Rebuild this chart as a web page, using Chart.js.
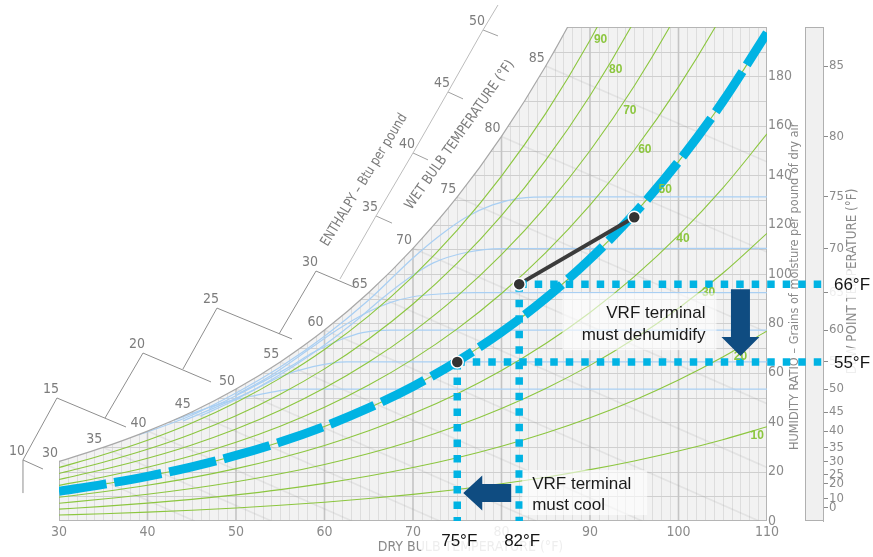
<!DOCTYPE html>
<html>
<head>
<meta charset="utf-8">
<script src="https://cdn.jsdelivr.net/npm/chart.js@4.4.1/dist/chart.umd.min.js"></script>
<style>
  html, body { margin: 0; padding: 0; background: #ffffff; }
  #wrap { width: 873px; height: 557px; }
</style>
</head>
<body>
<div id="wrap"><canvas id="chart" width="873" height="557"></canvas></div>
<script>
// ---------- chart values ----------
const dryBulb = [30, 35, 40, 45, 50, 55, 60, 65, 70, 75, 80, 85, 90, 95, 100, 105, 110];
// humidity ratio at saturation, grains per pound of dry air
const saturationGrains = [24.1, 29.8, 36.4, 44.1, 53.4, 64.4, 77.3, 92.5, 110.4, 131.2, 155.7, 184.2, 217.4, 256.0, 301.0, 353.3, 414.1];

// relative humidity curves (grains at each dry bulb temperature)
const rhLevels = [10, 20, 30, 40, 50, 60, 70, 80, 90];
const rh10 = [2.40, 2.96, 3.61, 4.37, 5.28, 6.35, 7.61, 9.08, 10.79, 12.78, 15.08, 17.74, 20.80, 24.32, 28.34, 32.93, 38.14];
const rh20 = [4.79, 5.93, 7.22, 8.76, 10.58, 12.72, 15.24, 18.19, 21.63, 25.63, 30.27, 35.63, 41.80, 48.90, 57.05, 66.36, 76.96];
const rh30 = [7.19, 8.90, 10.84, 13.15, 15.89, 19.11, 22.90, 27.34, 32.53, 38.56, 45.56, 53.66, 63.01, 73.77, 86.14, 100.30, 116.47];
const rh40 = [9.60, 11.87, 14.47, 17.55, 21.21, 25.52, 30.59, 36.53, 43.48, 51.56, 60.96, 71.85, 84.42, 98.93, 115.61, 134.76, 156.70];
const rh50 = [12.00, 14.85, 18.10, 21.96, 26.54, 31.95, 38.30, 45.76, 54.49, 64.64, 76.47, 90.18, 106.04, 124.36, 145.48, 169.76, 197.65];
const rh60 = [14.41, 17.83, 21.74, 26.38, 31.89, 38.39, 46.04, 55.03, 65.55, 77.80, 92.09, 108.66, 127.87, 150.09, 175.75, 205.32, 239.35];
const rh70 = [16.82, 20.82, 25.39, 30.80, 37.25, 44.86, 53.81, 64.34, 76.67, 91.04, 107.82, 127.30, 149.91, 176.11, 206.42, 241.4, 281.8];
const rh80 = [19.24, 23.81, 29.04, 35.24, 42.62, 51.34, 61.60, 73.68, 87.84, 104.36, 123.65, 146.10, 172.18, 202.45, 237.52];
const rh90 = [21.65, 26.80, 32.70, 39.69, 48.01, 57.85, 69.43, 83.07, 99.07, 117.76, 139.61, 165.05, 194.66, 229.09];
const rhSeries = [rh10, rh20, rh30, rh40, rh50, rh60, rh70, rh80, rh90];
const rhLabelDryBulb = [108.9, 107.0, 103.4, 100.5, 98.5, 96.2, 94.5, 92.9, 91.2];
const rhLabelGrains = [34.5, 66.4, 92.3, 114.2, 134.0, 150.2, 166.0, 182.6, 194.7];

// wet bulb lines: start on the saturation curve, end at the chart edge
const wetBulbTemps = [30, 35, 40, 45, 50, 55, 60, 65, 70, 75, 80, 85];
const wetBulbEndDryBulb = [45.3, 54.0, 63.1, 73.0, 83.9, 95.9, 109.1, 110, 110, 110, 110, 110];
const wetBulbEndGrains = [0, 0, 0, 0, 0, 0, 0, 21.7, 47.5, 76.4, 108.9, 145.4];

// light blue comfort curves, named by the dew point they level off at
const blue75T = [39, 45, 50, 55, 60, 65, 70, 73, 76, 79, 82, 86, 110];
const blue75W = [34.8, 42.8, 51.8, 62.3, 74.8, 89.5, 106.5, 115.5, 123.0, 128.0, 130.6, 131.2, 131.2];
const blue70T = [46, 50, 55, 60, 63.7, 66.3, 69.3, 72.3, 76, 80, 110];
const blue70W = [42.5, 49.2, 59.3, 71.3, 81.5, 89.5, 97.8, 104.5, 108.7, 110.3, 110.4];
const blue65T = [50, 54, 58.7, 61.4, 64.8, 67.4, 70, 73, 77, 110];
const blue65W = [51.0, 59.0, 70.6, 77.3, 84.4, 88.4, 90.8, 91.9, 92.5, 92.5];
const blue60T = [47, 51, 56.1, 58.7, 61.8, 64.3, 67.5, 110];
const blue60W = [45.5, 52.5, 62.5, 68.2, 73.4, 76.3, 77.3, 77.3];
const blue55T = [44, 48, 52, 55, 58.7, 62.5, 110];
const blue55W = [40.5, 46.5, 53.0, 58.4, 62.5, 64.4, 64.4];
const blue50T = [43, 46, 49, 51.9, 54.2, 56.5, 110];
const blue50W = [40.8, 44.8, 48.3, 50.6, 52.3, 53.4, 53.4];
const blueCurves = [[blue75T, blue75W], [blue70T, blue70W], [blue65T, blue65W], [blue60T, blue60W], [blue55T, blue55W], [blue50T, blue50W]];

// dew point scale (°F) and the humidity ratio each one sits at
const dewPointTicks = [0, 10, 20, 25, 30, 35, 40, 45, 50, 55, 60, 65, 70, 75, 80, 85];
const dewPointGrains = [5.5, 9.2, 15.0, 18.7, 24.1, 29.8, 36.4, 44.1, 53.4, 64.4, 77.3, 92.5, 110.4, 131.2, 155.7, 184.2];

// enthalpy scale (Btu per pound): tick point, tick end, spine end (dry bulb, grains)
const enthalpyValues = [10, 15, 20, 25, 30, 35, 40, 45, 50];
const enthTickT = [25.93, 29.77, 39.49, 47.85, 59.04, 65.82, 70.0, 73.95, 77.91];
const enthTickW = [24.7, 49.8, 68.0, 86.2, 101.2, 123.5, 149.0, 173.7, 198.8];
const enthEndT = [28.19, 37.57, 47.18, 56.33, 63.33, 67.63, 71.69, 75.65, 79.6];
const enthEndW = [21.05, 38.06, 56.3, 73.7, 94.7, 120.6, 146.2, 170.9, 196.4];
const enthSpineT = [25.93, 25.93, 35.2, 44.0, 54.86, 61.75, 65.82, 70.0, 73.95];
const enthSpineW = [11.3, 24.7, 41.7, 61.5, 75.7, 98.0, 123.5, 149.0, 173.7];
const enthSpineTopT = 79.6, enthSpineTopW = 208.9;

// process points: room (75°F, 55°F dew point), supply target (82°F, 66°F dew point), outdoor
const processDryBulb = [75, 82, 95];
const processGrains = [64.4, 95.9, 123.0];
const guideDryBulb = [82, 75];
const guideDewPoint = [66, 55];
const guideGrains = [95.9, 64.4];
const coolArrowGrains = 11.3;
const dehumidifyArrowDryBulb = 107;

// ---------- styling ----------
const narrow = "'Liberation Sans Narrow', 'Arial Narrow', 'DejaVu Sans Condensed', 'Liberation Sans', Arial, sans-serif";
const regular = "'Liberation Sans', Arial, Helvetica, sans-serif";
const cyan = '#00b3e3';
const navy = '#0f4c81';
const green = '#8cc63f';
const axisGray = '#8a8a8a';
Chart.defaults.font.family = narrow;

const pts = (xs, ys) => xs.map((t, i) => ({ x: t, y: ys[i] }));
function lineSet(data, opts) {
  return Object.assign({ data, xAxisID: 'x', yAxisID: 'y', fill: false, pointRadius: 0, borderWidth: 1, tension: 0 }, opts);
}

const datasets = [];
// 0: shaded area under the saturation curve
datasets.push(lineSet(pts(dryBulb, saturationGrains), { fill: 'origin', backgroundColor: '#f2f2f2', borderWidth: 0, borderColor: 'rgba(0,0,0,0)', cubicInterpolationMode: 'monotone', order: 100 }));
// wet bulb lines
wetBulbTemps.forEach((t, i) => datasets.push(lineSet(
  [{ x: t, y: saturationGrains[i] }, { x: wetBulbEndDryBulb[i], y: wetBulbEndGrains[i] }],
  { borderColor: 'rgba(150,150,150,0.16)', borderWidth: 1.6, order: 90 })));
// light blue curves
blueCurves.forEach(([ts, ws]) => datasets.push(lineSet(pts(ts, ws),
  { borderColor: '#a9cff3', borderWidth: 1.2, cubicInterpolationMode: 'monotone', order: 80 })));
// relative humidity curves
rhSeries.forEach(arr => datasets.push(lineSet(pts(dryBulb.slice(0, arr.length), arr),
  { borderColor: green, borderWidth: 1.1, cubicInterpolationMode: 'monotone', order: 70 })));
// saturation curve outline
datasets.push(lineSet(pts(dryBulb, saturationGrains), { borderColor: '#a8a8a8', borderWidth: 1.2, cubicInterpolationMode: 'monotone', order: 60 }));
// 50% relative humidity, highlighted
datasets.push(lineSet(pts(dryBulb, rh50), { borderColor: cyan, borderWidth: 9, borderDash: [48, 8], borderCapStyle: 'butt', cubicInterpolationMode: 'monotone', order: 50 }));
// outdoor air to supply condition
datasets.push(lineSet(pts(processDryBulb.slice(1), processGrains.slice(1)), { borderColor: '#3b3b3b', borderWidth: 4, order: 30 }));
// process points
const markerIndex = datasets.length;
datasets.push(lineSet(pts(processDryBulb, processGrains), { showLine: false, pointRadius: 6, pointBackgroundColor: '#333333', pointBorderColor: '#ffffff', pointBorderWidth: 1.5, order: 20 }));

// ---------- drawing helpers ----------
function seg(ctx, a, b) { ctx.beginPath(); ctx.moveTo(a[0], a[1]); ctx.lineTo(b[0], b[1]); ctx.stroke(); }
function rotatedText(ctx, text, cx, cy, deg, font, color, squeeze) {
  ctx.save(); ctx.translate(cx, cy); ctx.rotate(deg * Math.PI / 180);
  if (squeeze) ctx.scale(squeeze, 1);
  ctx.font = font; ctx.fillStyle = color; ctx.textAlign = 'center'; ctx.textBaseline = 'middle';
  ctx.fillText(text, 0, 0); ctx.restore();
}

function drawGrid(chart, meta) {
  const { ctx, chartArea: a, scales: { x, y } } = chart;
  ctx.save();
  ctx.beginPath(); ctx.rect(a.left, a.top, a.right - a.left, a.bottom - a.top); ctx.clip();
  ctx.beginPath();
  if (meta.dataset && typeof meta.dataset.path === 'function') {
    meta.dataset.path(ctx);
  } else {
    meta.data.forEach((p, i) => i ? ctx.lineTo(p.x, p.y) : ctx.moveTo(p.x, p.y));
  }
  ctx.lineTo(a.right, a.bottom); ctx.lineTo(a.left, a.bottom); ctx.closePath();
  ctx.clip();
  for (let t = 30; t <= 110; t += 1) {
    if (t % 10 === 0) continue;
    const px = Math.round(x.getPixelForValue(t)) + 0.5;
    ctx.strokeStyle = '#dddddd'; ctx.lineWidth = 1;
    seg(ctx, [px, a.top], [px, a.bottom]);
  }
  for (let w = 10; w < 200; w += 10) {
    const py = Math.round(y.getPixelForValue(w)) + 0.5;
    ctx.strokeStyle = '#cfcfcf'; ctx.lineWidth = 1.2;
    seg(ctx, [a.left, py], [a.right, py]);
  }
  for (let t = 30; t <= 110; t += 10) {
    const px = x.getPixelForValue(t);
    ctx.strokeStyle = '#c4c4c4'; ctx.lineWidth = 1.6;
    seg(ctx, [px, a.top], [px, a.bottom]);
  }
  ctx.strokeStyle = '#b5b5b5'; ctx.lineWidth = 2;
  ctx.strokeRect(a.left, a.top, a.right - a.left, a.bottom - a.top);
  ctx.restore();
}

function drawSidePanel(chart) {
  const { ctx, chartArea: a, scales: { x, y, dew } } = chart;
  ctx.save();
  // dew point bar
  const top = y.getPixelForValue(200), bottom = y.getPixelForValue(0) - 1;
  ctx.fillStyle = '#f0f0f0'; ctx.strokeStyle = '#b0b0b0'; ctx.lineWidth = 1;
  ctx.fillRect(dew.left - 18, top, 18, bottom - top);
  ctx.strokeRect(dew.left - 18 + 0.5, top + 0.5, 18, bottom - top);
  // axis titles on the right
  rotatedText(ctx, 'HUMIDITY RATIO – Grains of moisture per pound of dry air', y.left + 28, y.getPixelForValue(95), -90, `13px ${narrow}`, axisGray, 0.97);
  rotatedText(ctx, 'DEW POINT TEMPERATURE (°F)', dew.left + 29, y.getPixelForValue(97), -90, `14px ${narrow}`, axisGray, 0.95);
  // x axis title
  ctx.font = `14px ${narrow}`; ctx.fillStyle = axisGray; ctx.textAlign = 'center'; ctx.textBaseline = 'middle';
  ctx.fillText('DRY BULB TEMPERATURE (°F)', x.getPixelForValue(76.5), a.bottom + 26);
  ctx.restore();
}

function drawGuides(chart) {
  const { ctx, chartArea: a, scales: { x, y, dew } } = chart;
  ctx.save();
  ctx.strokeStyle = cyan; ctx.lineWidth = 7.5; ctx.setLineDash([7.5, 8]); ctx.lineCap = 'butt';
  guideDryBulb.forEach((t, i) => {
    const px = x.getPixelForValue(t), py = y.getPixelForValue(guideGrains[i]);
    seg(ctx, [px, py], [px, a.bottom]);
    seg(ctx, [px, py], [dew.left, py]);
  });
  ctx.restore();
}

function labelBox(ctx, text, cx, cy, w, h, alpha) {
  ctx.fillStyle = `rgba(255,255,255,${alpha})`;
  ctx.fillRect(cx - w / 2, cy - h / 2, w, h);
  ctx.fillStyle = '#141414'; ctx.font = `17px ${regular}`; ctx.textAlign = 'center'; ctx.textBaseline = 'middle';
  ctx.fillText(text, cx, cy + 1);
}

function drawDecor(chart) {
  const { ctx, chartArea: a, scales: { x, y, dew } } = chart;
  const P = (t, w) => [x.getPixelForValue(t), y.getPixelForValue(w)];
  ctx.save();

  // wet bulb labels along the saturation curve
  ctx.font = `14px ${narrow}`; ctx.fillStyle = '#7c7c7c'; ctx.textAlign = 'center'; ctx.textBaseline = 'middle';
  wetBulbTemps.forEach((t, i) => {
    const p = P(t, saturationGrains[i]);
    ctx.fillText(String(t), p[0] - 9, p[1] - 8);
  });

  // enthalpy scale
  ctx.lineWidth = 1;
  enthalpyValues.forEach((h, i) => {
    const p = P(enthTickT[i], enthTickW[i]);
    const e = P(enthEndT[i], enthEndW[i]);
    const s = P(enthSpineT[i], enthSpineW[i]);
    ctx.strokeStyle = i <= 4 ? '#8e8e8e' : '#a0a0a0';
    seg(ctx, p, e);
    ctx.strokeStyle = i <= 4 ? '#8e8e8e' : '#bcbcbc';
    seg(ctx, p, s);
    ctx.fillStyle = '#7c7c7c';
    ctx.fillText(String(h), p[0] - 6, p[1] - 9);
  });
  ctx.strokeStyle = '#bcbcbc';
  seg(ctx, P(enthTickT[8], enthTickW[8]), P(enthSpineTopT, enthSpineTopW));

  const et = P(64.5, 138.0);
  rotatedText(ctx, 'ENTHALPY – Btu per pound', et[0], et[1], -58.5, `14px ${narrow}`, '#7c7c7c', 0.9);
  const wt = P(75.3, 156.3);
  rotatedText(ctx, 'WET BULB TEMPERATURE (°F)', wt[0], wt[1], -54.8, `14px ${narrow}`, '#7c7c7c', 0.95);

  // relative humidity labels
  ctx.font = `bold 12px ${regular}`; ctx.fillStyle = green;
  rhLevels.forEach((r, i) => {
    const p = P(rhLabelDryBulb[i], rhLabelGrains[i]);
    ctx.fillText(String(r), p[0], p[1]);
  });

  // "must dehumidify" note and arrow
  const ax = x.getPixelForValue(dehumidifyArrowDryBulb);
  const yHi = y.getPixelForValue(guideGrains[0]);
  const yLo = y.getPixelForValue(guideGrains[1]);
  ctx.fillStyle = 'rgba(255,255,255,0.6)';
  ctx.fillRect(ax - 178, yHi + 9, 154, 57);
  ctx.fillStyle = '#1a1a1a'; ctx.font = `17px ${regular}`; ctx.textAlign = 'right';
  ctx.fillText('VRF terminal', ax - 35, yHi + 29);
  ctx.fillText('must dehumidify', ax - 35, yHi + 51);

  ctx.fillStyle = navy;
  const yTop = yHi + 5, yTip = yLo - 6, headLen = 19;
  ctx.beginPath();
  ctx.moveTo(ax - 9.5, yTop); ctx.lineTo(ax + 9.5, yTop); ctx.lineTo(ax + 9.5, yTip - headLen);
  ctx.lineTo(ax + 19, yTip - headLen); ctx.lineTo(ax, yTip); ctx.lineTo(ax - 19, yTip - headLen);
  ctx.lineTo(ax - 9.5, yTip - headLen); ctx.closePath(); ctx.fill();

  // "must cool" note and arrow
  const cy = y.getPixelForValue(coolArrowGrains);
  const xHot = x.getPixelForValue(guideDryBulb[0]);
  const xCold = x.getPixelForValue(guideDryBulb[1]);
  ctx.fillStyle = 'rgba(255,255,255,0.6)';
  ctx.fillRect(xHot + 3, cy - 23, 125, 45);
  ctx.fillStyle = '#1a1a1a'; ctx.textAlign = 'left';
  ctx.fillText('VRF terminal', xHot + 13, cy - 9);
  ctx.fillText('must cool', xHot + 13, cy + 12);
  ctx.fillStyle = navy;
  const tip = xCold + 6, base = tip + 19, tail = xHot - 8;
  ctx.beginPath();
  ctx.moveTo(tip, cy); ctx.lineTo(base, cy - 17.5); ctx.lineTo(base, cy - 9); ctx.lineTo(tail, cy - 9);
  ctx.lineTo(tail, cy + 9); ctx.lineTo(base, cy + 9); ctx.lineTo(base, cy + 17.5); ctx.closePath(); ctx.fill();

  // value labels for the guides
  ctx.fillStyle = 'rgba(255,255,255,0.85)';
  ctx.fillRect(xCold - 36, a.bottom + 4, (xHot + 50) - (xCold - 36), 32);
  labelBox(ctx, `${guideDryBulb[1]}°F`, xCold + 2, a.bottom + 19, 0, 0, 0);
  labelBox(ctx, `${guideDryBulb[0]}°F`, xHot + 3, a.bottom + 19, 0, 0, 0);
  labelBox(ctx, `${guideDewPoint[0]}°F`, dew.left + 29, yHi, 46, 28, 0.85);
  labelBox(ctx, `${guideDewPoint[1]}°F`, dew.left + 29, yLo, 46, 28, 0.85);

  ctx.restore();
}

const psychroPlugin = {
  id: 'psychro',
  beforeDatasetsDraw(chart) { drawSidePanel(chart); },
  afterDatasetDraw(chart, args) { if (args.index === 0) drawGrid(chart, args.meta); },
  beforeDatasetDraw(chart, args) { if (args.index === markerIndex) drawGuides(chart); },
  afterDatasetsDraw(chart) { drawDecor(chart); }
};

new Chart(document.getElementById('chart'), {
  type: 'line',
  data: { datasets },
  plugins: [psychroPlugin],
  options: {
    responsive: false,
    animation: false,
    devicePixelRatio: 1,
    layout: { padding: { left: 59, top: 27, right: 0, bottom: 0 } },
    plugins: { legend: { display: false }, tooltip: { enabled: false } },
    scales: {
      x: {
        type: 'linear', min: 30, max: 110,
        grid: { display: false, drawTicks: false }, border: { display: false },
        ticks: { stepSize: 10, color: axisGray, font: { family: narrow, size: 14 }, padding: 3, maxRotation: 0 },
        afterFit: s => { s.height = 36; }
      },
      y: {
        type: 'linear', position: 'right', min: 0, max: 200,
        grid: { display: false, drawTicks: false }, border: { display: false },
        ticks: { stepSize: 20, color: axisGray, font: { family: narrow, size: 14 }, padding: 1, callback: v => (v >= 200 ? '' : v) },
        afterFit: s => { s.width = 56; }
      },
      dew: {
        type: 'linear', position: 'right', weight: 1, min: 0, max: 200,
        grid: { display: true, drawOnChartArea: false, drawTicks: true, tickLength: 5, color: axisGray, lineWidth: 1 },
        border: { display: true, color: '#b0b0b0' },
        ticks: { autoSkip: false, color: axisGray, font: { family: narrow, size: 13 }, padding: 1, callback: (v, i) => dewPointTicks[i] },
        afterBuildTicks: s => { s.ticks = dewPointGrains.map(v => ({ value: v })); },
        afterFit: s => { s.width = 50; }
      }
    }
  }
});
</script>
</body>
</html>
